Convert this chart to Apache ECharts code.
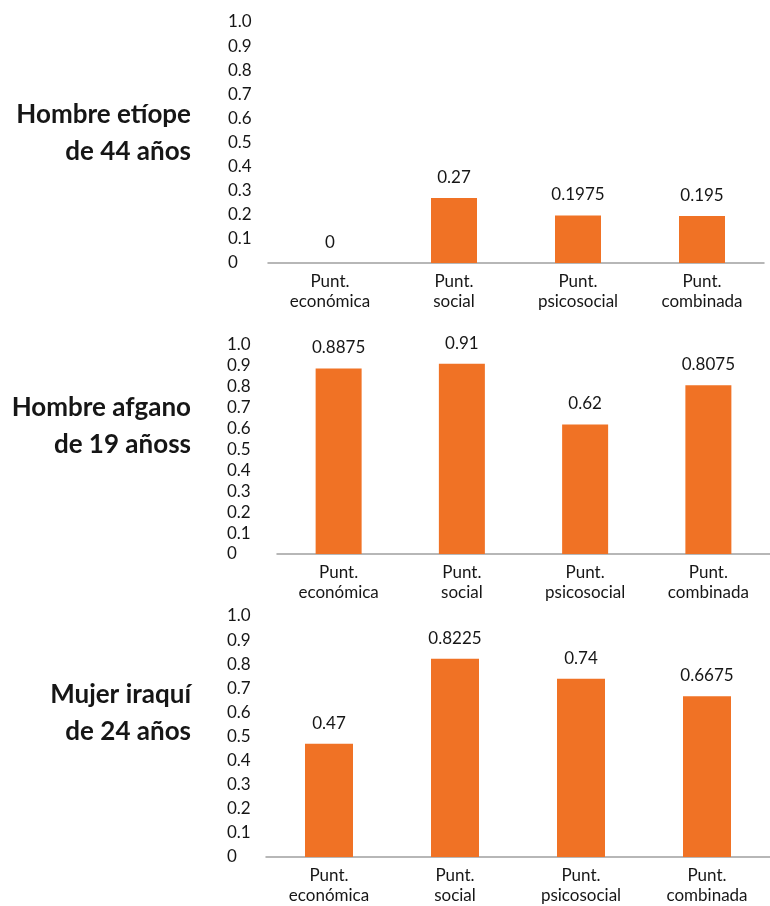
<!DOCTYPE html>
<html>
<head>
<meta charset="utf-8">
<script src="https://cdn.jsdelivr.net/npm/echarts@6/dist/echarts.min.js"></script>
<style>
html,body{margin:0;padding:0;background:#fff;}
#chart{width:770px;height:906px;}
</style>
</head>
<body>
<div id="chart"></div>
<script>
const categories = ['Punt.\neconómica', 'Punt.\nsocial', 'Punt.\npsicosocial', 'Punt.\ncombinada'];
const panelTitles = ['Hombre etíope\nde 44 años', 'Hombre afgano\nde 19 añoss', 'Mujer iraquí\nde 24 años'];
const etiopeValues = [0, 0.27, 0.1975, 0.195];
const afganoValues = [0.8875, 0.91, 0.62, 0.8075];
const iraquiValues = [0.47, 0.8225, 0.74, 0.6675];
const yTickLabels = ['0', '0.1', '0.2', '0.3', '0.4', '0.5', '0.6', '0.7', '0.8', '0.9', '1.0'];

const seriesValues = [etiopeValues, afganoValues, iraquiValues];
const FONT = 'Lato';
const TEXT = '#161616';
const ORANGE = '#F07225';

const grids = [
  {left: 268, top: 22, width: 496, height: 241},
  {left: 277, top: 345, width: 493, height: 209},
  {left: 266, top: 616, width: 516, height: 241}
];
const labelMargins = [40, 50, 39];
const barWidths = [46, 46, 48];
const titleCenters = [133.5, 426.5, 713];

const option = {
  backgroundColor: '#fff',
  animation: false,
  graphic: panelTitles.map((t, i) => ({
    type: 'text',
    x: 191,
    y: titleCenters[i],
    style: {
      text: t,
      align: 'right',
      verticalAlign: 'middle',
      font: 'bold 26px Lato',
      lineHeight: 37,
      fill: TEXT
    }
  })),
  grid: grids,
  xAxis: grids.map((g, i) => ({
    type: 'category',
    gridIndex: i,
    data: categories,
    axisLine: {show: true, lineStyle: {color: '#a0a0a0', width: 1.5}},
    axisTick: {show: false},
    axisLabel: {fontFamily: FONT, fontSize: 17, color: TEXT, lineHeight: 20, margin: 9, interval: 0}
  })),
  yAxis: grids.map((g, i) => ({
    type: 'value',
    gridIndex: i,
    min: 0, max: 1, interval: 0.1,
    axisLine: {show: false},
    axisTick: {show: false},
    splitLine: {show: false},
    axisLabel: {
      fontFamily: FONT, fontSize: 17, color: TEXT, align: 'left', margin: labelMargins[i],
      formatter: (v) => yTickLabels[Math.round(v * 10)]
    }
  })),
  series: seriesValues.map((vals, i) => ({
    type: 'bar',
    xAxisIndex: i,
    yAxisIndex: i,
    data: vals,
    barWidth: barWidths[i],
    itemStyle: {color: ORANGE},
    label: {show: true, position: 'top', distance: 12, fontFamily: FONT, fontSize: 17, color: TEXT,
      formatter: (p) => String(p.value)}
  }))
};

const chart = echarts.init(document.getElementById('chart'), null, {renderer: 'canvas'});
chart.setOption(option);
</script>
</body>
</html>
